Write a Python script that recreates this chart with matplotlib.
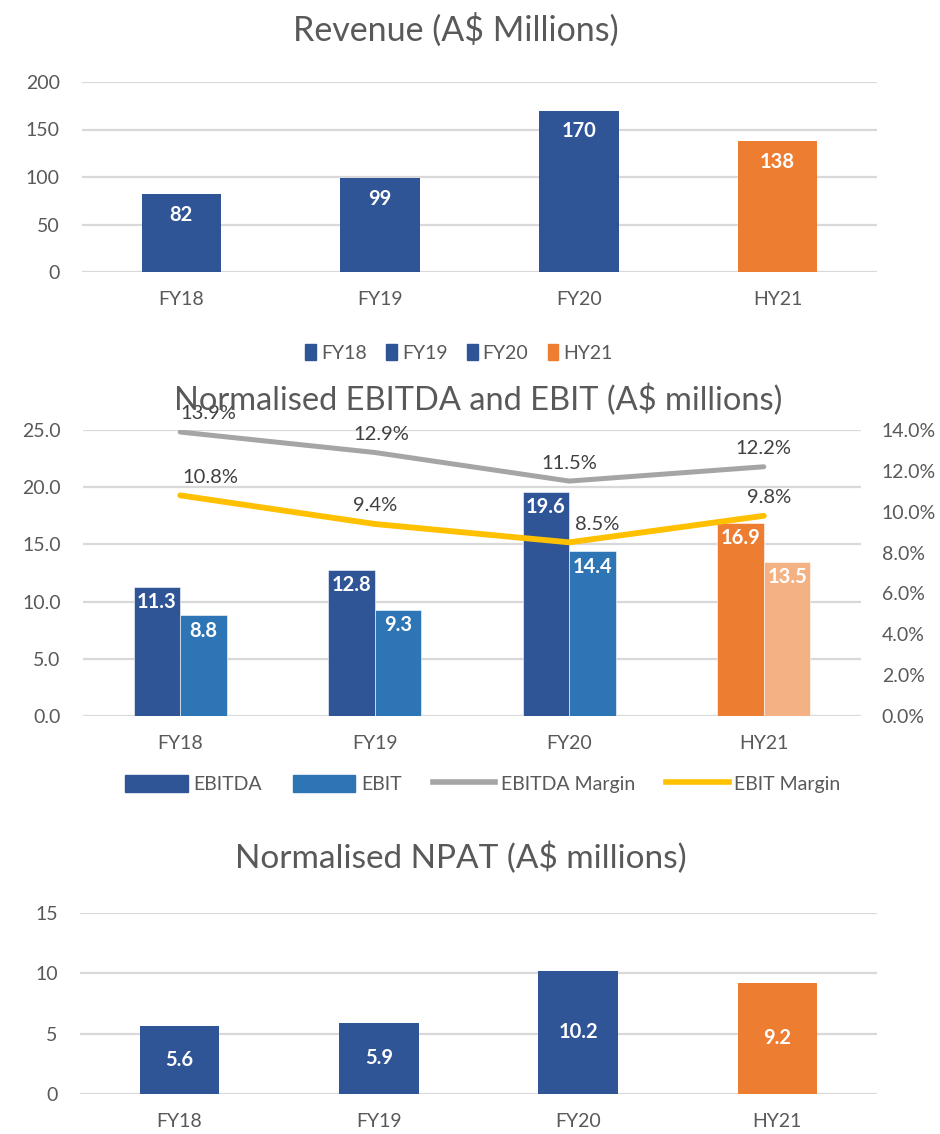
import matplotlib
matplotlib.use("Agg")
import matplotlib.pyplot as plt
from matplotlib.patches import Patch
from matplotlib.lines import Line2D
from matplotlib.ticker import FuncFormatter

# data
categories = ["FY18", "FY19", "FY20", "HY21"]
revenue = [82, 99, 170, 138]
ebitda = [11.3, 12.8, 19.6, 16.9]
ebit = [8.8, 9.3, 14.4, 13.5]
ebitda_margin = [13.9, 12.9, 11.5, 12.2]
ebit_margin = [10.8, 9.4, 8.5, 9.8]
npat = [5.6, 5.9, 10.2, 9.2]

DARK_BLUE = "#2F5597"
MID_BLUE = "#2E75B6"
ORANGE = "#ED7D31"
LIGHT_ORANGE = "#F4B183"
GREY_LINE = "#A5A5A5"
YELLOW = "#FFC000"
TEXT = "#595959"
GRID = "#D9D9D9"

plt.rcParams["font.family"] = ["Lato", "DejaVu Sans"]

W, H = 940, 1134
fig = plt.figure(figsize=(W / 100, H / 100), dpi=100)


def px_axes(left, top, right, bottom):
    return fig.add_axes([left / W, 1 - bottom / H, (right - left) / W, (bottom - top) / H])


def style(ax, pad_y=16):
    for s in ax.spines.values():
        s.set_visible(False)
    ax.grid(axis="y", color=GRID, linewidth=1.6)
    ax.set_axisbelow(True)
    ax.tick_params(length=0, labelsize=14, labelcolor=TEXT)
    ax.tick_params(axis="y", pad=pad_y)
    ax.tick_params(axis="x", pad=14)
    ax.set_xlim(-0.5, len(categories) - 0.5)
    ax.set_xticks(range(len(categories)))
    ax.set_xticklabels(categories)


def bar_colors(base, last):
    return [base] * (len(categories) - 1) + [last]


x = list(range(len(categories)))

# ---- Revenue ----
ax1 = px_axes(82, 82, 877, 272)
style(ax1)
ax1.bar(x, revenue, width=0.4, color=bar_colors(DARK_BLUE, ORANGE))
ax1.set_ylim(0, 200)
ax1.set_yticks(range(0, 201, 50))
for xi, v in zip(x, revenue):
    ax1.annotate(f"{v}", (xi, v), xytext=(0, -15), textcoords="offset points",
                 ha="center", va="center", color="white", fontsize=14.5, fontweight="bold")
fig.text(456 / W, 1 - 30 / H, "Revenue (A$ Millions)", ha="center", va="center",
         fontsize=24.5, color=TEXT)
fig.legend(handles=[Patch(color=c) for c in bar_colors(DARK_BLUE, ORANGE)],
           labels=categories, loc="center", bbox_to_anchor=(459 / W, 1 - 353 / H),
           ncol=4, frameon=False, fontsize=14, labelcolor=TEXT,
           handlelength=0.55, handleheight=0.9, handletextpad=0.25, columnspacing=1.0)

# ---- EBITDA / EBIT ----
ax2 = px_axes(83, 430, 861, 716)
style(ax2)
bw = 0.24
ax2.bar([i - bw / 2 for i in x], ebitda, width=bw, color=bar_colors(DARK_BLUE, ORANGE),
        edgecolor="white", linewidth=0.4)
ax2.bar([i + bw / 2 for i in x], ebit, width=bw, color=bar_colors(MID_BLUE, LIGHT_ORANGE),
        edgecolor="white", linewidth=0.4)
ax2.set_ylim(0, 25)
ax2.set_yticks(range(0, 26, 5))
ax2.yaxis.set_major_formatter(FuncFormatter(lambda v, p: f"{v:.1f}"))
for xi, a, b in zip(x, ebitda, ebit):
    ax2.annotate(f"{a}", (xi - bw / 2, a), xytext=(0, -11), textcoords="offset points",
                 ha="center", va="center", color="white", fontsize=14.5, fontweight="bold")
    ax2.annotate(f"{b}", (xi + bw / 2, b), xytext=(0, -11), textcoords="offset points",
                 ha="center", va="center", color="white", fontsize=14.5, fontweight="bold")

ax2r = ax2.twinx()
for s in ax2r.spines.values():
    s.set_visible(False)
ax2r.set_ylim(0, 14)
ax2r.set_yticks(range(0, 15, 2))
ax2r.yaxis.set_major_formatter(FuncFormatter(lambda v, p: f"{v:.1f}%"))
ax2r.tick_params(length=0, labelsize=14, labelcolor=TEXT, pad=15)
ax2r.plot(x, ebitda_margin, color=GREY_LINE, linewidth=3.6, solid_capstyle="round")
ax2r.plot(x, ebit_margin, color=YELLOW, linewidth=4.2, solid_capstyle="round")
label_dx = [20, 5, 0, 0]
label_dx_ebit = [22, 0, 20, 4]
for xi, m, dx in zip(x, ebitda_margin, label_dx):
    ax2r.annotate(f"{m}%", (xi, m), xytext=(dx, 13), textcoords="offset points",
                  ha="center", va="center", color="#404040", fontsize=14.5)
for xi, m, dx in zip(x, ebit_margin, label_dx_ebit):
    ax2r.annotate(f"{m}%", (xi, m), xytext=(dx, 13), textcoords="offset points",
                  ha="center", va="center", color="#404040", fontsize=14.5)
fig.text(478 / W, 1 - 400 / H, "Normalised EBITDA and EBIT (A$ millions)", ha="center",
         va="center", fontsize=23.5, color=TEXT)
leg_handles = [Patch(color=DARK_BLUE), Patch(color=MID_BLUE),
               Line2D([], [], color=GREY_LINE, linewidth=4),
               Line2D([], [], color=YELLOW, linewidth=4)]
fig.legend(handles=leg_handles, labels=["EBITDA", "EBIT", "EBITDA Margin", "EBIT Margin"],
           loc="center", bbox_to_anchor=(483 / W, 1 - 784 / H), ncol=4, frameon=False,
           fontsize=14, labelcolor=TEXT, handlelength=3.2, handleheight=1.0,
           handletextpad=0.3, columnspacing=1.6)

# ---- NPAT ----
ax3 = px_axes(80, 913, 877, 1094)
style(ax3)
ax3.bar(x, npat, width=0.4, color=bar_colors(DARK_BLUE, ORANGE))
ax3.set_ylim(0, 15)
ax3.set_yticks(range(0, 16, 5))
for xi, v in zip(x, npat):
    ax3.text(xi, v / 2, f"{v}", ha="center", va="center", color="white",
             fontsize=14.5, fontweight="bold")
fig.text(461 / W, 1 - 858 / H, "Normalised NPAT (A$ millions)", ha="center", va="center",
         fontsize=24, color=TEXT)

fig.savefig("out.png", dpi=100, facecolor="white")
